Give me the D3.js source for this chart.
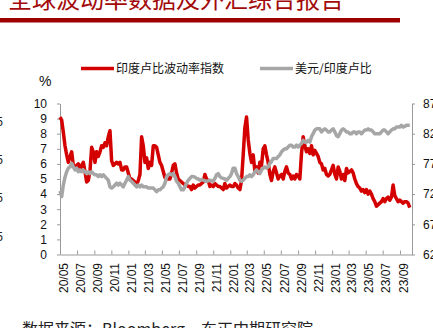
<!DOCTYPE html>
<html><head><meta charset="utf-8">
<script src="https://cdn.jsdelivr.net/npm/d3@7"></script>
<style>
html,body{margin:0;padding:0;background:#fff;overflow:hidden}
svg{display:block}
text{font-family:"Liberation Sans","Noto Sans CJK SC",Arial,sans-serif}
</style></head><body>
<svg id="c" width="433" height="328"></svg>
<script>
// ---------- data ----------
const titleText = "全球波动率数据及外汇综合报告";
const sourceText = "数据来源：Bloomberg，东正中期研究院";
const seriesNames = ["印度卢比波动率指数", "美元/印度卢比"];
const unitLabel = "%";
const firstObs = new Date(2020, 4, 1);
const lastObs = new Date(2023, 9, 6);
const xTickLabels = ["20/05","20/07","20/09","20/11","21/01","21/03","21/05","21/07","21/09","21/11",
  "22/01","22/03","22/05","22/07","22/09","22/11","23/01","23/03","23/05","23/07","23/09"];
const leftTicks = [0,1,2,3,4,5,6,7,8,9,10];
const rightTicks = [62,67,72,77,82,87];
const edgeLabels = ["5","5","5","5"];

// INR volatility index (left axis, %)
const inrVol = [
 9.1,8.9,8.1,7.2,6.6,6.1,6.5,6.8,5.9,5.7,
 5.9,6.0,5.7,5.9,6.1,5.5,4.8,4.9,5.5,7.1,
 6.8,6.1,6.8,6.5,6.8,7.2,7.1,7.4,7.2,7.8,
 8.2,6.2,5.9,6.0,6.1,6.0,6.1,5.6,5.6,5.8,
 5.8,5.4,5.0,5.0,4.9,4.8,4.6,4.9,5.3,7.8,
 7.2,6.1,6.4,5.7,6.1,5.9,7.2,7.2,7.1,6.6,
 6.1,5.9,5.5,5.1,5.0,5.0,5.0,5.4,5.9,6.0,
 5.4,5.0,4.9,4.8,4.7,4.6,4.6,4.5,4.5,4.3,
 4.6,4.4,4.5,4.6,4.6,4.7,4.8,5.3,5.0,4.9,
 4.5,4.6,4.5,4.7,4.6,4.5,4.5,4.4,4.3,4.7,
 4.4,4.5,4.6,4.5,4.5,4.7,4.6,4.4,4.3,
 4.9,6.6,8.4,9.1,7.6,6.7,6.1,6.6,5.5,5.8,
 5.4,6.1,5.9,7.0,7.2,6.6,6.1,5.3,4.9,5.5,
 5.8,5.4,5.0,5.2,5.3,5.0,5.5,5.8,5.4,5.3,
 5.0,5.2,5.0,5.3,5.2,5.0,6.7,7.8,7.2,6.8,
 7.0,6.7,7.2,6.6,6.9,6.7,6.5,6.1,6.0,5.6,
 5.7,5.3,5.2,5.3,5.6,5.9,5.3,5.0,5.8,5.5,
 5.0,5.3,4.9,5.7,5.4,5.5,5.6,5.4,5.0,4.7,
 4.5,4.4,4.2,4.3,4.1,4.3,4.0,4.2,4.0,3.7,
 3.5,3.2,3.3,3.4,3.5,3.7,3.5,3.7,3.8,3.6,
 3.8,4.6,3.9,3.7,3.5,3.6,3.5,3.4,3.5,3.5,
 3.4,3.1
];
// USD/INR (right axis)
const usdInr = [
 72.5,71.6,73.5,74.8,75.7,76.3,76.5,77.1,76.5,76.0,
 76.3,75.7,76.0,75.7,76.0,75.7,75.4,75.7,75.4,75.7,
 75.4,75.2,75.2,74.9,75.2,74.9,75.2,74.9,74.6,74.3,
 73.2,73.0,73.2,73.5,73.8,73.5,73.8,73.5,73.2,73.8,
 74.3,74.9,74.3,74.1,73.8,73.5,73.2,73.5,73.2,73.5,
 73.2,73.2,73.2,73.0,73.0,73.0,73.0,72.7,72.4,72.7,
 72.7,73.0,73.2,73.8,74.9,75.2,75.4,75.2,75.4,74.9,
 74.1,73.8,73.2,72.7,72.7,73.2,73.8,74.3,74.6,74.9,
 74.9,74.8,74.6,74.5,74.3,74.4,74.3,74.2,74.1,74.2,
 74.3,74.2,74.1,74.6,75.2,75.4,74.9,74.7,74.6,74.5,
 74.3,74.6,74.9,75.4,76.3,76.3,75.4,74.9,74.3,
 74.1,74.3,74.6,74.9,74.9,75.2,74.9,75.2,75.7,76.0,
 75.7,75.4,76.0,76.3,76.5,76.3,76.5,77.1,77.4,77.9,
 77.9,77.9,78.2,78.5,79.0,79.3,79.5,79.5,79.8,80.1,
 80.1,79.8,79.8,80.1,79.8,80.1,80.4,80.9,80.6,80.6,
 80.9,80.6,81.5,82.0,82.6,82.8,82.8,82.8,82.3,82.6,
 82.8,82.6,82.3,82.3,82.6,82.8,82.3,81.7,81.5,82.0,
 82.6,82.8,82.6,82.3,82.3,82.0,82.0,82.3,82.3,82.0,
 82.3,82.3,82.0,82.3,82.6,82.6,82.8,82.6,82.6,82.3,
 82.0,82.0,82.0,82.0,82.3,82.6,82.6,82.3,82.0,82.3,
 82.6,82.8,82.8,83.1,83.1,83.1,83.4,83.1,83.2,83.4,
 83.4,83.4
];

// ---------- drawing ----------
const svg = d3.select("#c");
const W = 433, H = 328;
const plot = {l: 60, r: 412, t: 103.5, b: 254.5};
const axisColor = "#9a9a9a";
const red = "#d40000", gray = "#a6a6a6";

const n = inrVol.length;
const obsTime = d3.scaleLinear().domain([0, n - 1]).range([firstObs.getTime(), lastObs.getTime()]);
const dates = d3.range(n).map(i => new Date(obsTime(i)));

const x = d3.scaleTime().domain([new Date(2020, 4, 1), new Date(2023, 9, 14)]).range([plot.l, plot.r]);
const yL = d3.scaleLinear().domain([0, 10]).range([plot.b, plot.t]);
const yR = d3.scaleLinear().domain([62, 87]).range([plot.b, plot.t]);

// title & rule
svg.append("text").attr("x", 8).attr("y", 8).attr("font-size", 24)
  .attr("fill", "#a30a0a").style("font-family", '"Noto Sans CJK SC",sans-serif').text(titleText);
svg.append("rect").attr("x", 0).attr("y", 18).attr("width", 400).attr("height", 4.5).attr("fill", "#9c0000");

// fragments from neighbouring chart at left edge
const edgeY = d3.scaleLinear().domain([0, edgeLabels.length - 1]).range([121.5, 236.5]);
svg.selectAll("text.edge").data(edgeLabels).join("text").attr("class", "edge")
  .attr("x", 3).attr("y", (d, i) => edgeY(i)).attr("dy", "0.35em")
  .attr("text-anchor", "end").attr("font-size", 12).attr("fill", "#222").text(d => d);

// legend
const lg = svg.append("g");
[[81, 114, 116, red, seriesNames[0]], [260, 293, 295, gray, seriesNames[1]]].forEach(([x1, x2, tx, c, t]) => {
  lg.append("line").attr("x1", x1).attr("x2", x2).attr("y1", 68.5).attr("y2", 68.5)
    .attr("stroke", c).attr("stroke-width", 3.5);
  lg.append("text").attr("x", tx).attr("y", 73.3).attr("font-size", 12).attr("fill", "#111")
    .style("font-family", '"Noto Sans CJK SC",sans-serif').text(t);
});

// unit label
svg.append("text").attr("x", 39).attr("y", 86).attr("font-size", 14).attr("fill", "#111").text(unitLabel);

// left axis
const gL = svg.append("g").attr("transform", `translate(${plot.l},0)`)
  .call(d3.axisLeft(yL).tickValues(leftTicks).tickSize(3).tickSizeOuter(0).tickPadding(10));
// right axis
const gR = svg.append("g").attr("transform", `translate(${plot.r},0)`)
  .call(d3.axisRight(yR).tickValues(rightTicks).tickSize(3).tickSizeOuter(0).tickPadding(8));
// bottom axis
const tickDates = xTickLabels.map(s => new Date(2000 + +s.slice(0, 2), +s.slice(3) - 1, 1));
const gB = svg.append("g").attr("transform", `translate(0,${plot.b})`)
  .call(d3.axisBottom(x).tickValues(tickDates).tickSize(-4).tickSizeOuter(0).tickFormat(""));
[gL, gR, gB].forEach(g => {
  g.select(".domain").attr("stroke", axisColor);
  g.selectAll(".tick line").attr("stroke", axisColor);
  g.selectAll(".tick text").attr("font-size", 12).attr("fill", "#111")
    .style("font-family", '"Liberation Sans",Arial,sans-serif');
});
svg.selectAll("text.xl").data(tickDates).join("text").attr("class", "xl")
  .attr("transform", (d) => `translate(${x(d) + 3.5},263) rotate(-90)`)
  .attr("dy", "0.35em").attr("text-anchor", "end").attr("font-size", 12).attr("fill", "#111")
  .text((d, i) => xTickLabels[i]);

// series
const lineL = d3.line().x((d, i) => x(dates[i])).y(d => yL(d)).curve(d3.curveLinear);
const lineR = d3.line().x((d, i) => x(dates[i])).y(d => yR(d)).curve(d3.curveLinear);
svg.append("path").datum(inrVol).attr("d", lineL).attr("fill", "none")
  .attr("stroke", red).attr("stroke-width", 3.5).attr("stroke-linejoin", "round");
svg.append("path").datum(usdInr).attr("d", lineR).attr("fill", "none")
  .attr("stroke", gray).attr("stroke-width", 3.5).attr("stroke-linejoin", "round");

// source
svg.append("text").attr("x", 22).attr("y", 335).attr("font-size", 16).attr("fill", "#222")
  .style("font-family", '"Noto Sans CJK SC",sans-serif').text(sourceText);
</script>
</body></html>
